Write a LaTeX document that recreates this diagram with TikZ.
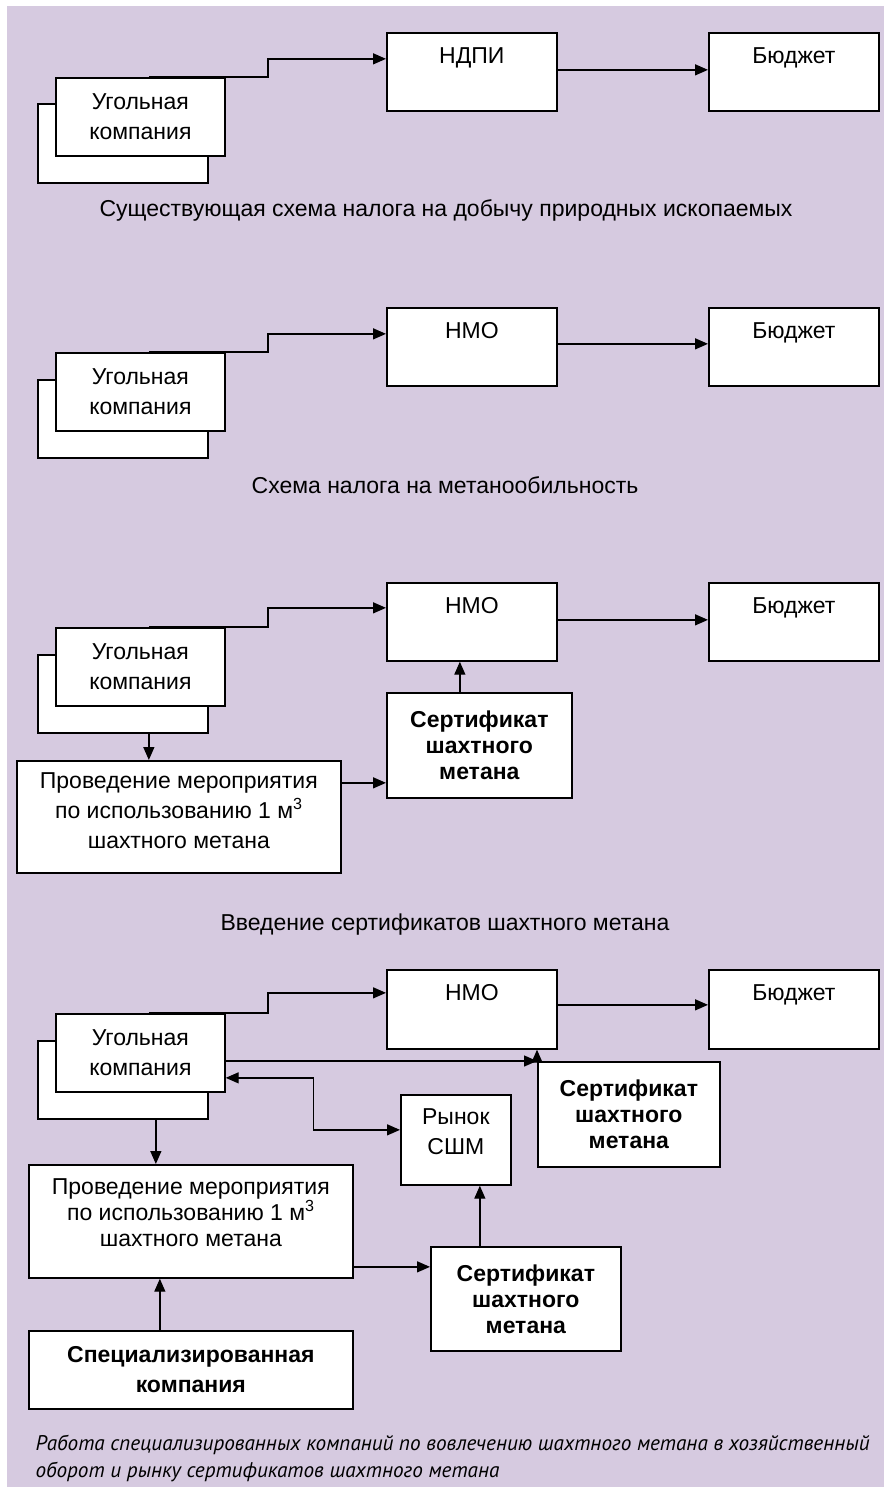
\documentclass[tikz,border=0pt]{standalone}
\usepackage{fontspec}
\setmainfont{Liberation Sans}
\newfontfamily\capfont{PT Sans}
\usetikzlibrary{arrows.meta}
\definecolor{bgpurple}{RGB}{214,202,224}
% deepens the last line of a box so its text sits higher
\newcommand{\lowstrut}[1]{\rule[-#1]{0pt}{#1}}

\begin{document}
\begin{tikzpicture}[x=1pt,y=-1pt,
  box/.style={draw=black, line width=1.7pt, fill=white, inner sep=0pt,
    align=center, anchor=north west, font=\fontsize{23}{30}\selectfont},
  topbox/.style={box, text height=31pt, text depth=47pt},
  certbox/.style={box, font=\bfseries\fontsize{23}{26}\selectfont},
  arr/.style={line width=1.4pt, -{Triangle[length=13pt,width=11pt]}},
  darr/.style={line width=1.4pt, {Triangle[length=13pt,width=11pt]}-{Triangle[length=13pt,width=11pt]}},
  captext/.style={font=\fontsize{23}{30}\selectfont}]

\useasboundingbox (0,0) rectangle (891,1492);
\fill[white] (0,0) rectangle (891,1492);
\fill[bgpurple] (7,6) rectangle (884,1487);

% ---------- Scheme 1: mineral extraction tax ----------
\node[box, minimum width=170pt, minimum height=79pt] (b1) at (37,103) {};
\node[box, minimum width=169pt, minimum height=78pt] (c1) at (55,77) {Угольная\\компания};
\node[topbox, minimum width=170pt, minimum height=78pt] (ndpi) at (386,32) {НДПИ};
\node[topbox, minimum width=170pt, minimum height=78pt] (bud1) at (708,32) {Бюджет};
\draw[arr] ([xshift=8.5pt]c1.north) -- ++(119,0) |- ([yshift=13pt]ndpi.west);
\draw[arr] ([yshift=2pt]ndpi.east) -- ([yshift=2pt]bud1.west);
\node[captext] (t1) at (446,210) {Существующая схема налога на добычу природных ископаемых};

% ---------- Scheme 2: methane abundance tax ----------
\node[box, minimum width=170pt, minimum height=78pt] (b2) at (37,379) {};
\node[box, minimum width=169pt, minimum height=78pt] (c2) at (55,352) {Угольная\\компания};
\node[topbox, minimum width=170pt, minimum height=78pt] (n2) at (386,307) {НМО};
\node[topbox, minimum width=170pt, minimum height=78pt] (bud2) at (708,307) {Бюджет};
\draw[arr] ([xshift=8.5pt]c2.north) -- ++(119,0) |- ([yshift=13pt]n2.west);
\draw[arr] ([yshift=3pt]n2.east) -- ([yshift=3pt]bud2.west);
\node[captext] (t2) at (445,485) {Схема налога на метанообильность};

% ---------- Scheme 3: methane certificates ----------
\node[box, minimum width=170pt, minimum height=78pt] (b3) at (37,654) {};
\node[box, minimum width=169pt, minimum height=78pt] (c3) at (55,627) {Угольная\\компания};
\node[topbox, minimum width=170pt, minimum height=78pt] (n3) at (386,582) {НМО};
\node[topbox, minimum width=170pt, minimum height=78pt] (bud3) at (708,582) {Бюджет};
\node[box, minimum width=324pt, minimum height=112pt] (p3) at (16,760)
  {Проведение мероприятия\\по использованию 1 м\textsuperscript{3}\\шахтного метана\lowstrut{13pt}};
\node[certbox, minimum width=185pt, minimum height=105pt] (s3) at (386,692)
  {Сертификат\\шахтного\\метана};
\draw[arr] ([xshift=8.5pt]c3.north) -- ++(119,0) |- ([yshift=14pt]n3.west);
\draw[arr] ([yshift=2pt]n3.east) -- ([yshift=2pt]bud3.west);
\draw[arr] ([xshift=26pt]b3.south) -- ([xshift=26pt]b3.south |- p3.north);
\draw[arr] ([yshift=34pt]p3.east) -- ([yshift=34pt]p3.east -| s3.west);
\draw[arr] ([xshift=-19.5pt]s3.north) -- ([xshift=-19.5pt]s3.north |- n3.south);
\node[captext] (t3) at (445,925) {Введение сертификатов шахтного метана};

% ---------- Scheme 4: specialised companies and certificate market ----------
\node[topbox, minimum width=170pt, minimum height=79pt, text depth=48pt] (n4) at (386,969) {НМО};
\node[topbox, minimum width=170pt, minimum height=79pt, text depth=48pt] (bud4) at (708,969) {Бюджет};
\node[box, minimum width=170pt, minimum height=78pt] (b4) at (37,1040) {};
\node[box, minimum width=169pt, minimum height=78pt] (c4) at (55,1013) {Угольная\\компания};
\node[certbox, minimum width=182pt, minimum height=105pt] (s4a) at (537,1061)
  {Сертификат\\шахтного\\метана};
\node[box, minimum width=110pt, minimum height=90pt] (ry) at (400,1094) {Рынок\\СШМ\lowstrut{17pt}};
\node[box, minimum width=324pt, minimum height=113pt, font=\fontsize{23}{26}\selectfont] (p4) at (28,1164)
  {Проведение мероприятия\\по использованию 1 м\textsuperscript{3}\\шахтного метана\lowstrut{17pt}};
\node[certbox, minimum width=190pt, minimum height=104pt] (s4b) at (430,1246)
  {Сертификат\\шахтного\\метана};
\node[box, minimum width=324pt, minimum height=78pt, font=\bfseries\fontsize{23}{30}\selectfont] (sp) at (28,1330)
  {Специализированная\\компания};

\draw[arr] ([xshift=8.5pt]c4.north) -- ++(119,0) |- ([yshift=16.5pt]n4.west);
\draw[arr] ([yshift=4.5pt]n4.east) -- ([yshift=4.5pt]bud4.west);
\draw[arr] (c4.east |- s4a.north west) -- (s4a.north west);
\draw[arr] (s4a.north west) -- (s4a.north west |- n4.south);
\draw[darr] ([yshift=-25pt]c4.east) -- ++(88,0) |- ([yshift=10pt]ry.west);
\draw[arr] ([xshift=33pt]b4.south) -- ([xshift=33pt]b4.south |- p4.north);
\draw[arr] ([yshift=-45.5pt]p4.east) -- ([yshift=-45.5pt]p4.east -| s4b.west);
\draw[arr] ([xshift=-46pt]s4b.north) -- ([xshift=-46pt]s4b.north |- ry.south);
\draw[arr] ([xshift=-31pt]sp.north) -- ([xshift=-31pt]sp.north |- p4.south);

\node[anchor=west, align=left, font=\capfont\itshape\fontsize{21.2}{27}\selectfont] (t4) at (32,1458)
  {Работа специализированных компаний по вовлечению шахтного метана в хозяйственный\\оборот и рынку сертификатов шахтного метана};
\end{tikzpicture}
\end{document}
